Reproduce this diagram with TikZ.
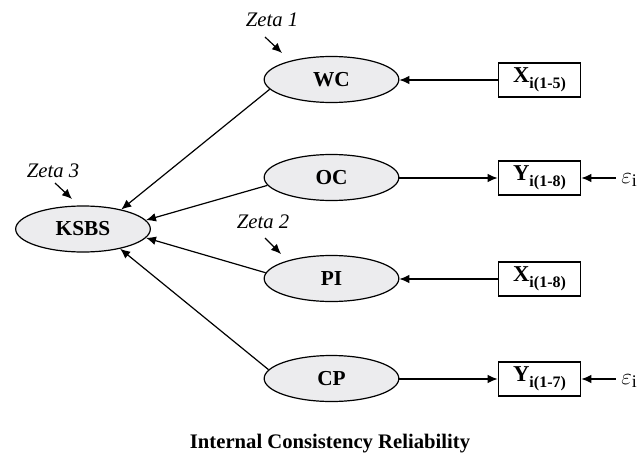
\documentclass[tikz,border=0pt]{standalone}
\usepackage{fontspec}
\setmainfont{Liberation Serif}
\usetikzlibrary{arrows.meta,shapes.geometric}
\definecolor{ellfill}{RGB}{236,236,238}
\tikzset{
  lat/.style={ellipse,draw=black,line width=0.9pt,fill=ellfill,minimum width=101pt,minimum height=34.5pt,inner sep=0pt,font=\fontsize{16}{18}\selectfont\bfseries},
  obs/.style={rectangle,draw=black,line width=0.9pt,fill=white,minimum width=62pt,minimum height=25.5pt,inner sep=0pt,font=\fontsize{17}{19}\selectfont\bfseries},
  arr/.style={line width=0.9pt,-{Latex[length=7.5pt,width=6.5pt]}},
  zeta/.style={font=\fontsize{15.5}{18}\selectfont\itshape,inner sep=0pt},
  eps/.style={font=\fontsize{19}{22}\selectfont,inner sep=0pt,anchor=west}
}
\newcommand{\obslab}[2]{#1\raisebox{-4.5pt}{\fontsize{12}{13}\selectfont #2}}
\begin{document}
\begin{tikzpicture}[x=0.75pt,y=-0.75pt]
\useasboundingbox (0,0) rectangle (641,456);
% latent variables
\node[lat] (wc) at (331.5,79.5) {WC};
\node[lat] (oc) at (331.5,177.5) {OC};
\node[lat] (pi) at (331.5,278.5) {PI};
\node[lat] (cp) at (331.5,378.5) {CP};
\node[lat] (ksbs) at (83,229) {KSBS};
% observed
\node[obs] (x1) at (539.5,80) {\obslab{X}{i(1-5)}};
\node[obs] (y1) at (539.5,178) {\obslab{Y}{i(1-8)}};
\node[obs] (x2) at (539.5,279) {\obslab{X}{i(1-8)}};
\node[obs] (y2) at (539.5,379) {\obslab{Y}{i(1-7)}};
% errors
\node[eps] (e1) at (621,180) {$\varepsilon_{\mathrm{i}}$};
\node[eps] (e2) at (621,381) {$\varepsilon_{\mathrm{i}}$};
% zetas
\node[zeta] (z1) at (272,20) {Zeta 1};
\node[zeta] (z2) at (263,222) {Zeta 2};
\node[zeta] (z3) at (53,171) {Zeta 3};
\coordinate (z1s) at (265,37);  \coordinate (z1e) at (282,53);
\coordinate (z2s) at (265,238); \coordinate (z2e) at (281,254);
\coordinate (z3s) at (55,183);  \coordinate (z3e) at (72,199);
\draw[arr] (z1s) -- (z1e);
\draw[arr] (z2s) -- (z2e);
\draw[arr] (z3s) -- (z3e);
% measurement arrows
\draw[arr] (x1.west) -- (x1.west -| wc.east);
\draw[arr] (oc.east |- y1.west) -- (y1.west);
\draw[arr] (x2.west) -- (x2.west -| pi.east);
\draw[arr] (cp.east |- y2.west) -- (y2.west);
\draw[arr] ([xshift=-4pt]e1.west |- y1.east) -- (y1.east);
\draw[arr] ([xshift=-4pt]e2.west |- y2.east) -- (y2.east);
% structural arrows
\draw[arr] (wc.189) -- (ksbs.27);
\draw[arr] (oc.187) -- (ksbs.8);
\draw[arr] (pi.175) -- (ksbs.-8);
\draw[arr] (cp.172) -- (ksbs.-28);
% title
\node[font=\fontsize{15.5}{18}\selectfont\bfseries,anchor=base] (title) at (330,448) {Internal Consistency Reliability};
\end{tikzpicture}
\end{document}
